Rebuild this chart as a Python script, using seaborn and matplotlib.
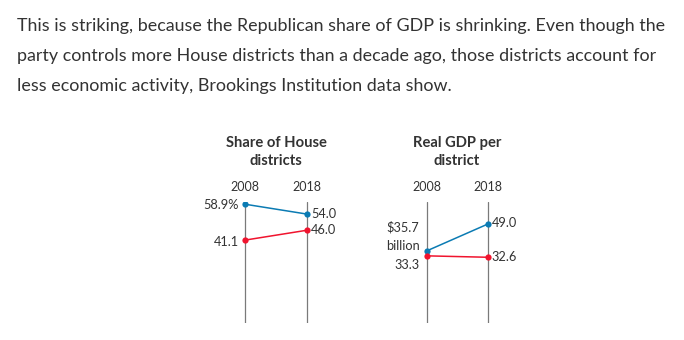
import matplotlib
matplotlib.use("Agg")
import matplotlib.pyplot as plt
import seaborn as sns
import pandas as pd

sns.set_theme(style="white")
plt.rcParams['font.family'] = ['Lato', 'DejaVu Sans']

# ---- data ----
years = [2008, 2018]
parties = ["Republican", "Democratic"]
house_share_rep = [58.9, 54.0]
house_share_dem = [41.1, 46.0]
gdp_rep = [35.7, 49.0]
gdp_dem = [33.3, 32.6]
house_labels_rep = ["58.9%", "54.0"]
house_labels_dem = ["41.1", "46.0"]
gdp_labels_rep = ["$35.7", "49.0"]
gdp_labels_dem = ["33.3", "32.6"]
titles = ["Share of House\ndistricts", "Real GDP per\ndistrict"]
paragraph = [
    "This is striking, because the Republican share of GDP is shrinking. Even though the",
    "party controls more House districts than a decade ago, those districts account for",
    "less economic activity, Brookings Institution data show.",
]

colors = {"Republican": "#0b7bb3", "Democratic": "#f0142e"}
TXT = "#333333"
LFS = 9.2   # value label font size

W, H = 684, 340
fig = plt.figure(figsize=(W / 100, H / 100), dpi=100)

def px_axes(x0, x1, y_top, y_bot):
    return fig.add_axes([x0 / W, (H - y_bot) / H, (x1 - x0) / W, (y_bot - y_top) / H])

def make_df(rep, dem):
    return pd.DataFrame({
        "year": years * 2,
        "value": list(rep) + list(dem),
        "party": [parties[0]] * 2 + [parties[1]] * 2,
    })

# pixel layout: 2008 at x0+31, 2018 at x1-31 (pad of 5 years each side)
panels = [
    dict(ax=px_axes(214, 338, 202, 323), df=make_df(house_share_rep, house_share_dem)),
    dict(ax=px_axes(396, 518, 202, 323), df=make_df(gdp_rep, gdp_dem)),
]

for i, p in enumerate(panels):
    ax = p["ax"]
    ax.set_xlim(2003, 2023)
    ax.set_ylim(0, 60)
    for y in years:
        ax.axvline(y, ymin=0, ymax=1, color="#7a7a7a", lw=0.9, zorder=1)
    sns.lineplot(data=p["df"], x="year", y="value", hue="party", palette=colors,
                 marker="o", markersize=4.5, markeredgewidth=0, lw=1.1,
                 legend=False, ax=ax, zorder=3)
    ax.axis("off")
    # year labels
    for y in years:
        ax.annotate(str(y), xy=(y, 60), xytext=(0, 15), textcoords="offset pixels",
                    ha="center", va="center", fontsize=9, color=TXT)
    # title
    ax.annotate(titles[i], xy=(2013, 60), xytext=(0, 50), textcoords="offset pixels",
                ha="center", va="center", fontsize=10.6, fontweight="bold",
                color=TXT, linespacing=1.35)

# value labels, left panel
axL = panels[0]["ax"]
axL.annotate(house_labels_rep[0], xy=(years[0], house_share_rep[0]), xytext=(-6, -1),
             textcoords="offset pixels", ha="right", va="center", fontsize=LFS, color=TXT)
axL.annotate(house_labels_dem[0], xy=(years[0], house_share_dem[0]), xytext=(-6, -1.5),
             textcoords="offset pixels", ha="right", va="center", fontsize=LFS, color=TXT)
axL.annotate(house_labels_rep[1], xy=(years[1], house_share_rep[1]), xytext=(4, 0),
             textcoords="offset pixels", ha="left", va="center", fontsize=LFS, color=TXT)
axL.annotate(house_labels_dem[1], xy=(years[1], house_share_dem[1]), xytext=(4, 0.5),
             textcoords="offset pixels", ha="left", va="center", fontsize=LFS, color=TXT)

# value labels, right panel
axR = panels[1]["ax"]
axR.annotate(gdp_labels_rep[0], xy=(years[0], gdp_rep[0]), xytext=(-7, 24),
             textcoords="offset pixels", ha="right", va="center", fontsize=LFS, color=TXT)
axR.annotate("billion", xy=(years[0], gdp_rep[0]), xytext=(-7, 5),
             textcoords="offset pixels", ha="right", va="center", fontsize=LFS, color=TXT)
axR.annotate(gdp_labels_dem[0], xy=(years[0], gdp_dem[0]), xytext=(-7, -9),
             textcoords="offset pixels", ha="right", va="center", fontsize=LFS, color=TXT)
axR.annotate(gdp_labels_rep[1], xy=(years[1], gdp_rep[1]), xytext=(4, 1),
             textcoords="offset pixels", ha="left", va="center", fontsize=LFS, color=TXT)
axR.annotate(gdp_labels_dem[1], xy=(years[1], gdp_dem[1]), xytext=(4, 0.5),
             textcoords="offset pixels", ha="left", va="center", fontsize=LFS, color=TXT)

# paragraph
for k, line in enumerate(paragraph):
    fig.text(17 / W, 1 - (26 + 30 * k) / H, line, ha="left", va="center",
             fontsize=12.9, color=TXT)

fig.savefig("out.png", dpi=100, facecolor="white")
